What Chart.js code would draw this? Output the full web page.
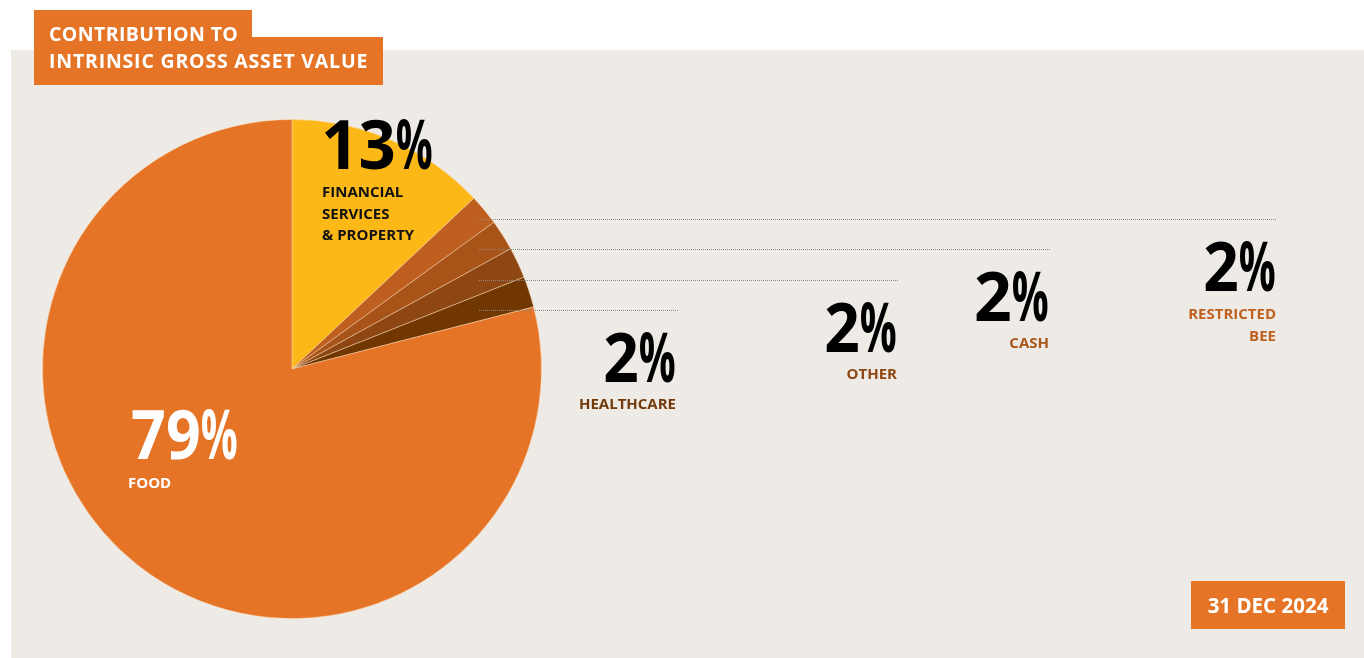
<!DOCTYPE html>
<html><head><meta charset="utf-8">
<script src="https://cdn.jsdelivr.net/npm/chart.js@4/dist/chart.umd.min.js"></script>
<style>html,body{margin:0;padding:0;background:#fff;overflow:hidden}#wrap{position:relative;width:1364px;height:658px}canvas{display:block}</style>
</head><body><div id="wrap"><canvas id="c" width="1364" height="658"></canvas></div>
<script>
// ---- data ----
const titleLines = ['CONTRIBUTION TO', 'INTRINSIC GROSS ASSET VALUE'];
const dateLabel = '31 DEC 2024';
const categories = ['FINANCIAL SERVICES & PROPERTY', 'RESTRICTED BEE', 'CASH', 'OTHER', 'HEALTHCARE', 'FOOD'];
const values = [13, 2, 2, 2, 2, 79];
const labelLines = [['FINANCIAL', 'SERVICES', '& PROPERTY'], ['RESTRICTED', 'BEE'], ['CASH'], ['OTHER'], ['HEALTHCARE'], ['FOOD']];

// ---- styles ----
const sliceColors = ['#FBB817', '#BE5F1F', '#A85418', '#8E4612', '#713700', '#E57426'];
const labelColors = ['#111111', '#C0611F', '#A9561A', '#8F4813', '#73390A', '#FFFFFF'];
const pctColors = ['#000000', '#000000', '#000000', '#000000', '#000000', '#FFFFFF'];
const ORANGE = '#E57426';
const PANEL = '#EEEBE6';

// annotation layout
// [anchorX, align, pctBaseline, pctWidth, labelX, labelFirstBaseline, lineHeight]
const labelLayout = [
  [325, 'left', 169, 107, 322, 197, 21.5],
  [1275, 'right', 291, 70, 1276, 319, 22],
  [1048, 'right', 321, 72, 1049, 348, 22],
  [896, 'right', 352, 70, 897, 379, 22],
  [675, 'right', 382, 70, 676, 409, 22],
  [132, 'left', 459, 105, 128, 488, 22]
];
// leader lines for small slices: [y, xEnd]
const leaderLines = [null, [219, 1276], [249, 1050], [280, 899], [310, 678]];

const REF_CX = 292, REF_CY = 369;
const PCT_SIGN_W = 35, PCT_GAP = 3;

const decor = {
  id: 'decor',
  beforeDraw(chart) {
    const ctx = chart.ctx;
    ctx.save();
    ctx.fillStyle = '#ffffff';
    ctx.fillRect(0, 0, chart.width, chart.height);
    ctx.fillStyle = PANEL;
    ctx.fillRect(11, 50, chart.width - 11, chart.height - 50);
    ctx.restore();
  },
  afterDraw(chart) {
    const ctx = chart.ctx;
    const arc = chart.getDatasetMeta(0).data[0];
    const dx = arc.x - REF_CX, dy = arc.y - REF_CY;
    ctx.save();
    // title box
    ctx.fillStyle = ORANGE;
    ctx.fillRect(34, 10, 218, 75);
    ctx.fillRect(34, 37, 349, 48);
    ctx.fillStyle = '#ffffff';
    ctx.font = 'bold 19.5px "Open Sans", sans-serif';
    ctx.textAlign = 'left';
    ctx.textBaseline = 'alphabetic';
    try { ctx.letterSpacing = '0.4px'; } catch (e) {}
    ctx.fillText(titleLines[0], 49, 41);
    try { ctx.letterSpacing = '0.8px'; } catch (e) {}
    ctx.fillText(titleLines[1], 49, 68);
    try { ctx.letterSpacing = '0px'; } catch (e) {}
    // date box
    ctx.fillStyle = ORANGE;
    ctx.fillRect(1191, 581, 154, 48);
    ctx.fillStyle = '#ffffff';
    ctx.font = 'bold 20.5px "Open Sans", sans-serif';
    ctx.textAlign = 'center';
    ctx.fillText(dateLabel, 1268, 613);

    // leader lines
    ctx.strokeStyle = '#8a8a8a';
    ctx.lineWidth = 1;
    ctx.setLineDash([1, 1]);
    leaderLines.forEach(l => {
      if (!l) return;
      ctx.beginPath();
      ctx.moveTo(479 + dx, l[0] + dy + 0.5);
      ctx.lineTo(l[1], l[0] + dy + 0.5);
      ctx.stroke();
    });
    ctx.setLineDash([]);

    // labels
    values.forEach((v, i) => {
      const L = labelLayout[i];
      const sx = i === 0 || i === 5 ? dx : 0;
      const sy = i === 0 || i === 5 ? dy : 0;
      const digits = String(v);
      ctx.font = 'bold 68px "Open Sans", "Liberation Sans", sans-serif';
      ctx.textAlign = 'left';
      ctx.fillStyle = pctColors[i];
      const left = (L[1] === 'left' ? L[0] : L[0] - L[3]) + sx;
      const base = L[2] + sy;
      const dm = ctx.measureText(digits);
      const dVis = dm.actualBoundingBoxRight + dm.actualBoundingBoxLeft;
      const dTarget = L[3] - PCT_SIGN_W - PCT_GAP;
      const ds = dTarget / dVis;
      ctx.save();
      ctx.translate(left, base);
      ctx.scale(ds, 1);
      ctx.fillText(digits, dm.actualBoundingBoxLeft, 0);
      ctx.restore();
      const pm = ctx.measureText('%');
      const pVis = pm.actualBoundingBoxRight + pm.actualBoundingBoxLeft;
      const ps = PCT_SIGN_W / pVis;
      ctx.save();
      ctx.translate(left + dTarget + PCT_GAP, base);
      ctx.scale(ps, 1);
      ctx.fillText('%', pm.actualBoundingBoxLeft, 0);
      ctx.restore();

      ctx.font = 'bold 15px "Open Sans", sans-serif';
      ctx.fillStyle = labelColors[i];
      ctx.textAlign = L[1];
      labelLines[i].forEach((ln, k) => {
        ctx.fillText(ln, L[4] + sx, L[5] + sy + k * L[6]);
      });
    });
    ctx.restore();
  }
};

new Chart(document.getElementById('c'), {
  type: 'pie',
  data: {
    labels: categories,
    datasets: [{
      data: values,
      backgroundColor: sliceColors,
      borderColor: 'rgba(255,225,190,0.45)',
      borderWidth: 1
    }]
  },
  options: {
    responsive: false,
    animation: false,
    layout: { padding: { left: 42, top: 119, right: 822, bottom: 39 } },
    plugins: { legend: { display: false }, tooltip: { enabled: false } }
  },
  plugins: [decor]
});
</script>
</body></html>
